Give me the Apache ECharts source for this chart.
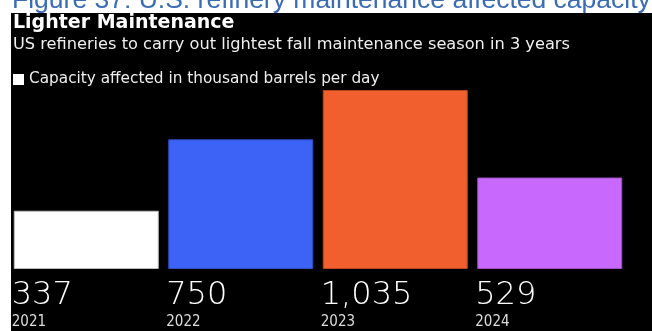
<!DOCTYPE html>
<html>
<head>
<meta charset="utf-8">
<script src="https://cdn.jsdelivr.net/npm/echarts@6/dist/echarts.min.js"></script>
<style>
html,body{margin:0;padding:0;background:#fff;}
#chart{width:652px;height:331px;}
</style>
</head>
<body>
<div id="chart"></div>
<script>
var categories = ['2021', '2022', '2023', '2024'];
var values = [337, 750, 1035, 529];
var barColors = ['#ffffff', '#3d63f6', '#f15f2e', '#c968fc'];
var barBorders = ['#bbbbbb', '#2d4fc0', '#b8471f', '#9a4fc2'];
var seriesName = 'Capacity affected in thousand barrels per day';
var captionText = 'Figure 37: U.S. refinery maintenance affected capacity';
var titleText = 'Lighter Maintenance';
var subtitleText = 'US refineries to carry out lightest fall maintenance season in 3 years';

var chart = echarts.init(document.getElementById('chart'), null, {renderer: 'canvas'});
var FONT = 'DejaVu Sans';
var option = {
  backgroundColor: '#ffffff',
  animation: false,
  graphic: [
    {type: 'rect', left: 11, top: 13, shape: {width: 641, height: 318}, style: {fill: '#000000'}, z: -10},
    {type: 'text', left: 12, top: -13, style: {text: captionText, fill: '#3b6cb4', font: '26.5px "Liberation Sans"'}, z: -20},
    {type: 'text', left: 13, top: 14, style: {text: titleText, fill: '#ffffff', font: 'bold 19px "DejaVu Sans"'}},
    {type: 'text', left: 13, top: 37, style: {text: subtitleText, fill: '#f0f0f0', font: '16.2px "DejaVu Sans"'}}
  ],
  legend: {
    show: true,
    left: 8,
    top: 67,
    icon: 'rect',
    itemWidth: 11,
    itemHeight: 11,
    itemGap: 10,
    itemStyle: {borderWidth: 0},
    textStyle: {color: '#eeeeee', fontFamily: FONT, fontSize: 15.3},
    data: [seriesName]
  },
  grid: {left: 9, right: 25, top: 61.5, height: 207.5, containLabel: false},
  xAxis: {type: 'category', data: categories, show: false},
  yAxis: {type: 'value', min: 0, max: 1200, show: false},
  series: [{
    name: seriesName,
    type: 'bar',
    barWidth: 145,
    itemStyle: {color: '#ffffff', borderColor: '#bbbbbb', borderWidth: 1},
    data: values.map(function (v, i) {
      return {value: v, itemStyle: {color: barColors[i], borderColor: barBorders[i], borderWidth: 1}};
    }),
    label: {
      show: true,
      position: [-2, '100%'],
      offset: [0, 9],
      align: 'left',
      verticalAlign: 'top',
      formatter: function (p) {
        return '{v|' + p.value.toLocaleString('en-US') + '}\n{y|' + categories[p.dataIndex] + '}';
      },
      rich: {
        v: {fontFamily: 'DejaVu Sans', fontSize: 32, fontWeight: 200, color: '#ffffff', lineHeight: 36},
        y: {fontFamily: 'DejaVu Sans Condensed', fontSize: 15, color: '#dddddd', lineHeight: 17}
      }
    }
  }]
};
chart.setOption(option);
</script>
</body>
</html>
